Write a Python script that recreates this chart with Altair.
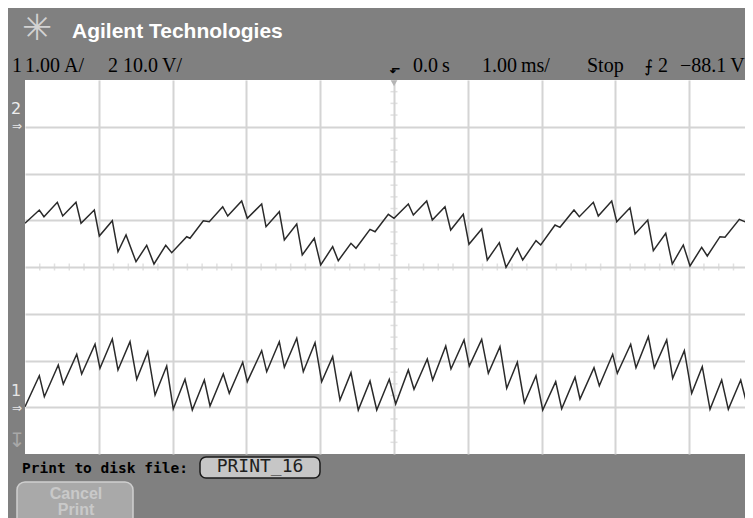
import altair as alt
import pandas as pd
import numpy as np

# ---- Channel 2 : 10.0 V/div, ground marker 3 div above centre ----
ch2_t = [-5.000, -4.806, -4.743, -4.562, -4.489, -4.309, -4.241, -4.061, -3.993, -3.817,
         -3.740, -3.631, -3.496, -3.351, -3.252, -3.093, -3.012, -2.809, -2.764, -2.584,
         -2.503, -2.321, -2.253, -2.064, -1.988, -1.793, -1.734, -1.554, -1.486, -1.318,
         -1.243, -1.080, -0.993, -0.831, -0.755, -0.583, -0.515, -0.325, -0.257, -0.077,
         0.000, 0.194, 0.262, 0.443, 0.519, 0.691, 0.768, 0.939, 1.016, 1.188,
         1.264, 1.427, 1.518, 1.671, 1.744, 1.924, 1.988, 2.182, 2.249, 2.439,
         2.511, 2.701, 2.768, 2.950, 3.018, 3.198, 3.266, 3.438, 3.514, 3.682,
         3.771, 3.920, 4.011, 4.169, 4.245, 4.417, 4.485, 4.679, 4.756, 4.869]
ch2_v = [-20.65, -17.81, -19.24, -16.16, -19.09, -16.16, -20.65, -17.81, -23.37, -20.10,
         -26.73, -23.16, -28.87, -25.36, -29.36, -25.36, -26.94, -23.52, -23.86, -20.10,
         -20.31, -17.10, -19.09, -15.88, -19.58, -16.52, -21.38, -18.17, -24.22, -20.80,
         -27.43, -23.86, -29.57, -25.66, -28.65, -24.93, -26.00, -21.94, -22.45, -18.73,
         -19.58, -16.52, -18.88, -15.88, -19.95, -17.10, -22.09, -18.73, -25.14, -21.87,
         -28.50, -24.80, -30.06, -26.00, -28.50, -24.37, -25.29, -21.02, -21.51, -17.81,
         -19.24, -16.16, -19.09, -15.88, -20.31, -17.32, -22.94, -19.95, -26.51, -22.79,
         -29.36, -25.29, -29.79, -25.79, -27.65, -23.52, -23.65, -19.80, -20.31, -18.51]

# ---- Channel 1 : 1.00 A/div, ground marker 3 div below centre ----
ch1_t = [-5.000, -4.806, -4.738, -4.549, -4.481, -4.299, -4.232, -4.051, -3.984, -3.817,
         -3.740, -3.577, -3.486, -3.337, -3.238, -3.080, -2.991, -2.832, -2.733, -2.570,
         -2.493, -2.313, -2.232, -2.050, -1.988, -1.793, -1.725, -1.554, -1.486, -1.318,
         -1.229, -1.070, -0.980, -0.831, -0.732, -0.583, -0.484, -0.325, -0.234, -0.064,
         0.023, 0.194, 0.271, 0.451, 0.524, 0.701, 0.772, 0.949, 1.020, 1.188,
         1.278, 1.436, 1.527, 1.671, 1.766, 1.924, 2.015, 2.191, 2.272, 2.453,
         2.520, 2.710, 2.782, 2.963, 3.026, 3.207, 3.279, 3.446, 3.527, 3.695,
         3.776, 3.934, 4.034, 4.177, 4.282, 4.440, 4.530, 4.698, 4.787, 4.869]
ch1_i = [0.012, 0.675, 0.226, 0.904, 0.497, 1.133, 0.711, 1.347, 0.833, 1.460,
         0.797, 1.402, 0.598, 1.188, 0.262, 0.882, -0.037, 0.598, -0.059, 0.583,
         0.027, 0.711, 0.298, 0.961, 0.547, 1.210, 0.760, 1.402, 0.855, 1.475,
         0.760, 1.381, 0.547, 1.081, 0.155, 0.739, -0.059, 0.561, -0.059, 0.598,
         0.070, 0.797, 0.384, 1.032, 0.583, 1.310, 0.818, 1.439, 0.882, 1.453,
         0.726, 1.295, 0.405, 0.961, 0.097, 0.675, -0.059, 0.547, -0.031, 0.641,
         0.176, 0.846, 0.461, 1.133, 0.726, 1.347, 0.846, 1.509, 0.846, 1.439,
         0.619, 1.210, 0.298, 0.867, -0.044, 0.583, -0.044, 0.583, 0.027, 0.440]

CH2_VDIV, CH2_POS = 10.0, 3.0
CH1_ADIV, CH1_POS = 1.0, -3.0

df2 = pd.DataFrame({"t": ch2_t, "div": [v / CH2_VDIV + CH2_POS for v in ch2_v], "ch": "2"})
df1 = pd.DataFrame({"t": ch1_t, "div": [a / CH1_ADIV + CH1_POS for a in ch1_i], "ch": "1"})
df1["idx"] = range(len(df1))
df2["idx"] = range(len(df2))
traces = pd.concat([df1, df2], ignore_index=True)

W, H = 720, 374
GRID = "#d4d4d4"
xscale = alt.Scale(domain=[-5, 4.756], nice=False, zero=False)
yscale = alt.Scale(domain=[-4, 4], nice=False, zero=False)

xaxis = alt.Axis(values=list(range(-4, 5)), grid=True, gridColor=GRID, gridWidth=2,
                 domain=False, ticks=False, labels=False, title=None)
yaxis = alt.Axis(values=list(range(-3, 4)), grid=True, gridColor=GRID, gridWidth=2,
                 domain=False, ticks=False, labels=False, title=None)

grid = alt.Chart(pd.DataFrame({"t": [0.0], "div": [0.0]})).mark_point(opacity=0).encode(
    x=alt.X("t:Q", scale=xscale, axis=xaxis),
    y=alt.Y("div:Q", scale=yscale, axis=yaxis),
)

hminor = pd.DataFrame({"t": [k * 0.2 for k in range(-24, 24) if k % 5 != 0], "div": 0.0})
vminor = pd.DataFrame({"div": [k * 0.25 for k in range(-15, 16) if k % 4 != 0], "t": 0.0})

hticks = alt.Chart(hminor).mark_tick(orient="vertical", size=7, thickness=1.5, color=GRID).encode(
    x=alt.X("t:Q", scale=xscale), y=alt.Y("div:Q", scale=yscale))
vticks = alt.Chart(vminor).mark_tick(orient="horizontal", size=7, thickness=1.5, color=GRID).encode(
    x=alt.X("t:Q", scale=xscale), y=alt.Y("div:Q", scale=yscale))

trig_pos = alt.Chart(pd.DataFrame({"t": [0.0], "div": [3.93]})).mark_point(
    shape="triangle-down", filled=True, size=45, color="#b4b4b4", opacity=1).encode(
    x=alt.X("t:Q", scale=xscale), y=alt.Y("div:Q", scale=yscale))

lines = alt.Chart(traces).mark_line(color="#2a2a2a", strokeWidth=1.5, clip=True).encode(
    x=alt.X("t:Q", scale=xscale),
    y=alt.Y("div:Q", scale=yscale),
    detail="ch:N",
    order="idx:Q",
)

one = pd.DataFrame({"a": [0]})


def label(txt, x, y, size=20, color="black", font="Liberation Serif", weight="normal",
          align="left", baseline="alphabetic"):
    return alt.Chart(one).mark_text(text=txt, fontSize=size, color=color, font=font,
                                    fontWeight=weight, align=align, baseline=baseline).encode(
        x=alt.value(x), y=alt.value(y))


def box(x, x2, y, y2, fill, stroke, radius):
    return alt.Chart(one).mark_rect(fill=fill, stroke=stroke, strokeWidth=1.5,
                                    cornerRadius=radius).encode(
        x=alt.value(x), x2=alt.value(x2), y=alt.value(y), y2=alt.value(y2))


SERIF_Y = -8
deco = [
    label("\u2733", 12, -51, size=36, color="#d2d2d2", font="DejaVu Sans", align="center", baseline="middle"),
    label("Agilent Technologies", 47, -42, size=21, color="white", font="Liberation Sans", weight="bold"),
    label("1", -13, SERIF_Y),
    label("1.00\u2009A/", 0, SERIF_Y),
    label("2", 83, SERIF_Y),
    label("10.0\u2009V/", 98, SERIF_Y),
    label("\u2b10", 370, -7, size=13, font="DejaVu Sans", weight="bold", align="center"),
    label("0.0\u2009s", 388, SERIF_Y),
    label("1.00\u2009ms/", 457, SERIF_Y),
    label("Stop", 562, SERIF_Y),
    label("\u2a0d", 624, SERIF_Y, size=17, font="DejaVu Sans", align="center"),
    label("2", 633, SERIF_Y),
    label("\u221288.1\u2009V", 655, SERIF_Y),
    label("2", -9, 29, size=16, color="#eeeeee", font="DejaVu Sans", align="center", baseline="middle"),
    label("\u21d2", -8, 46, size=12, color="#e6e6e6", font="DejaVu Sans", align="center", baseline="middle"),
    label("1", -9, 311, size=16, color="#e6e6e6", font="DejaVu Sans", align="center", baseline="middle"),
    label("\u21d2", -8, 328, size=12, color="#e6e6e6", font="DejaVu Sans", align="center", baseline="middle"),
    label("\u21a7", -8, 361, size=20, color="#a8a8a8", font="DejaVu Sans", align="center", baseline="middle"),
    label("Print to disk file:", -3, 393, size=14.5, font="DejaVu Sans Mono", weight="bold"),
    box(175, 295, 377, 398, "#c6c6c6", "#1a1a1a", 6),
    label("PRINT_16", 235, 392, size=18, color="#202020", font="DejaVu Sans Mono", align="center"),
    box(-8, 108, 402, 460, "#a9a9a9", "#cfcfcf", 8),
    label("Cancel", 51, 414, size=16, color="#c9c9c9", font="Liberation Sans", weight="bold",
          align="center", baseline="middle"),
    label("Print", 51, 430, size=16, color="#c9c9c9", font="Liberation Sans", weight="bold",
          align="center", baseline="middle"),
]

chart = alt.layer(grid, hticks, vticks, trig_pos, lines, *deco).properties(
    width=W, height=H,
    autosize=alt.AutoSizeParams(type="none"),
    padding={"left": 17, "top": 72, "right": 0, "bottom": 64},
    background="#808080",
).configure_view(fill="white", stroke=None)

chart.save("out.html", embed_options={"renderer": "svg", "actions": False})
